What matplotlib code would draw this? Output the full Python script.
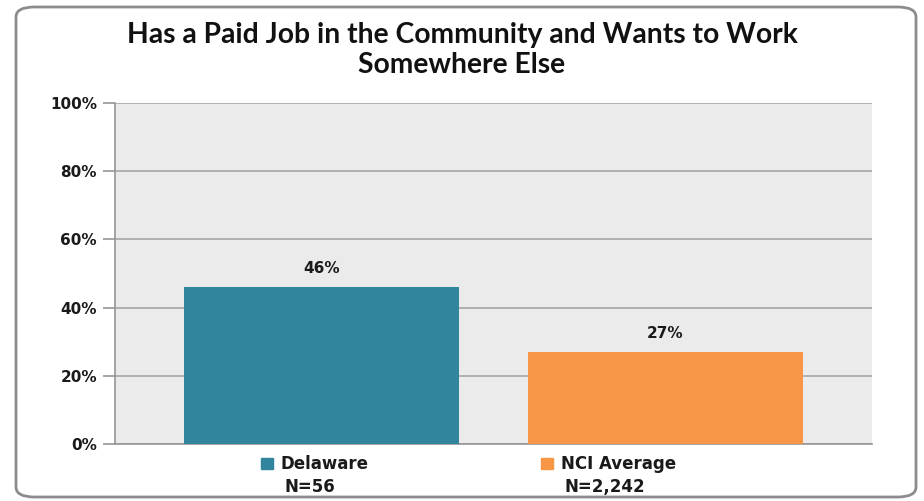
import matplotlib.pyplot as plt
from matplotlib.patches import FancyBboxPatch, Rectangle

categories = ['Delaware', 'NCI Average']
n_labels = ['N=56', 'N=2,242']
values = [46, 27]
colors = ['#31859C', '#F79646']
yticks = [0, 20, 40, 60, 80, 100]

plt.rcParams['font.family'] = ['DejaVu Sans']

fig = plt.figure(figsize=(9.24, 5.01), dpi=100)
ax = fig.add_axes([115 / 924, 1 - 444 / 501, 757 / 924, 341 / 501])

# rounded frame round the whole chart
frame = FancyBboxPatch((16 / 924, 4 / 501), 900 / 924, 490 / 501,
                       boxstyle='round,pad=0,rounding_size=0.02',
                       transform=fig.transFigure, fill=False,
                       edgecolor='#8c8c8c', linewidth=2, zorder=0)
fig.patches.append(frame)

x = range(len(categories))
bars = ax.bar(x, values, width=0.80, color=colors, zorder=3)
for rect, v in zip(bars, values):
    ax.text(rect.get_x() + rect.get_width() / 2, v + 3.2, f'{v}%',
            ha='center', va='bottom', fontsize=11, fontweight='bold',
            color='#1a1a1a')

ax.set_facecolor('#EBEBEB')
ax.set_xlim(-0.6, 1.6)
ax.set_ylim(0, 100)
ax.set_yticks(yticks)
ax.set_yticklabels([f'{t}%' for t in yticks], fontsize=11,
                   fontweight='bold', color='#1a1a1a')
ax.grid(axis='y', color='#a6a6a6', linewidth=1.2, zorder=0)
ax.set_xticks([])
for s in ['top', 'right']:
    ax.spines[s].set_visible(False)
for s in ['left', 'bottom']:
    ax.spines[s].set_color('#969696')
    ax.spines[s].set_linewidth(1.2)
ax.tick_params(axis='y', length=9, color='#969696', width=1.2, pad=4)

# legend-like category labels under the axis (x in pixels of figure)
legend_x = [281, 561]
for lx, cat, n, c in zip(legend_x, categories, n_labels, colors):
    fig.patches.append(Rectangle(((lx - 20) / 924, 1 - 469 / 501), 12 / 924, 11 / 501,
                                 transform=fig.transFigure, color=c))
    fig.text(lx / 924, 1 - 464 / 501, cat, ha='left', va='center',
             fontsize=12, fontweight='bold', color='#1a1a1a')
    fig.text((lx + 3) / 924, 1 - 487 / 501, n, ha='left', va='center',
             fontsize=12, fontweight='bold', color='#1a1a1a')

fig.text(0.5, 1 - 50 / 501,
         'Has a Paid Job in the Community and Wants to Work\nSomewhere Else',
         ha='center', va='center', fontsize=20.3, fontweight='bold',
         family='Lato', linespacing=1.15, color='#111111')

fig.savefig('out.png', dpi=100)
